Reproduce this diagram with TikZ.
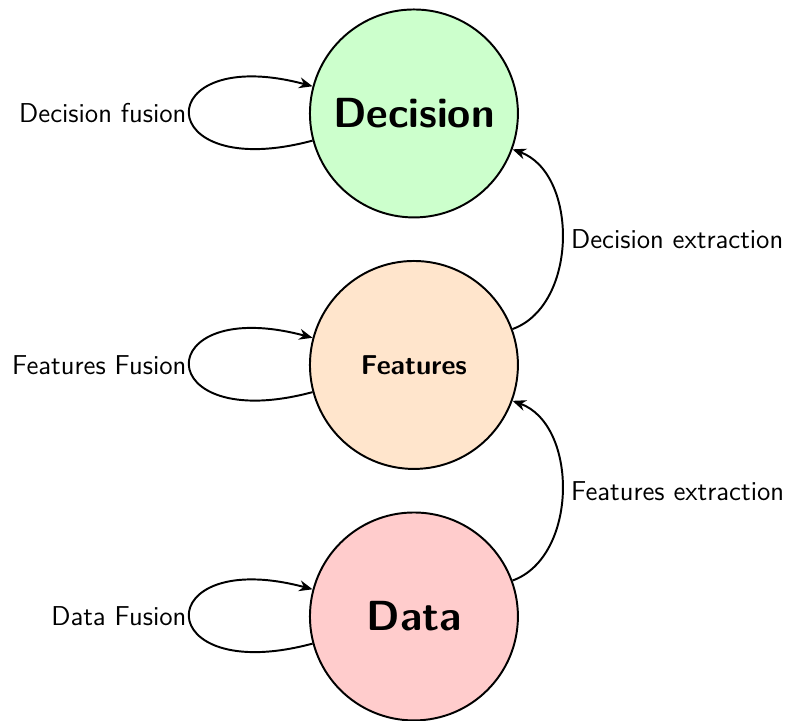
\documentclass[tikz,border=0pt]{standalone}
\usepackage{xcolor}
\usepackage{tikz}
\usetikzlibrary{positioning, arrows.meta, calc}

\begin{document}
\begin{tikzpicture}[font=\sffamily\fontsize{11.2}{13.6}\selectfont, thick,
    >={Stealth[length=5.5pt, width=4.5pt, inset=1.8pt]},
    level/.style={circle, draw, minimum size=3cm, inner sep=0pt},
    big/.style={font=\sffamily\bfseries\fontsize{17.28}{22}\selectfont},
    fuse/.style={->, loop left, looseness=8},
    lift/.style={->, bend right=70}]
  \useasboundingbox (-169.9pt,-146.1pt) rectangle (156.0pt,149.8pt);
  \node[level, fill=orange!20] (feat) {\textbf{Features}};
  \node[level, big, fill=green!20, above=6mm of feat] (dec) {Decision};
  \node[level, big, fill=red!20, below=6mm of feat] (data) {Data};

  % fusion at each level
  \path (dec) edge[fuse] node[left, inner sep=1pt] {Decision fusion} (dec);
  \path (feat) edge[fuse] node[left, inner sep=1pt] {Features Fusion} (feat);
  \path (data) edge[fuse] node[left, inner sep=1pt] {Data Fusion} (data);

  % extraction between levels
  \path (data) edge[lift] node[right] {Features extraction} (feat);
  \path (feat) edge[lift] node[right] {Decision extraction} (dec);
\end{tikzpicture}
\end{document}
